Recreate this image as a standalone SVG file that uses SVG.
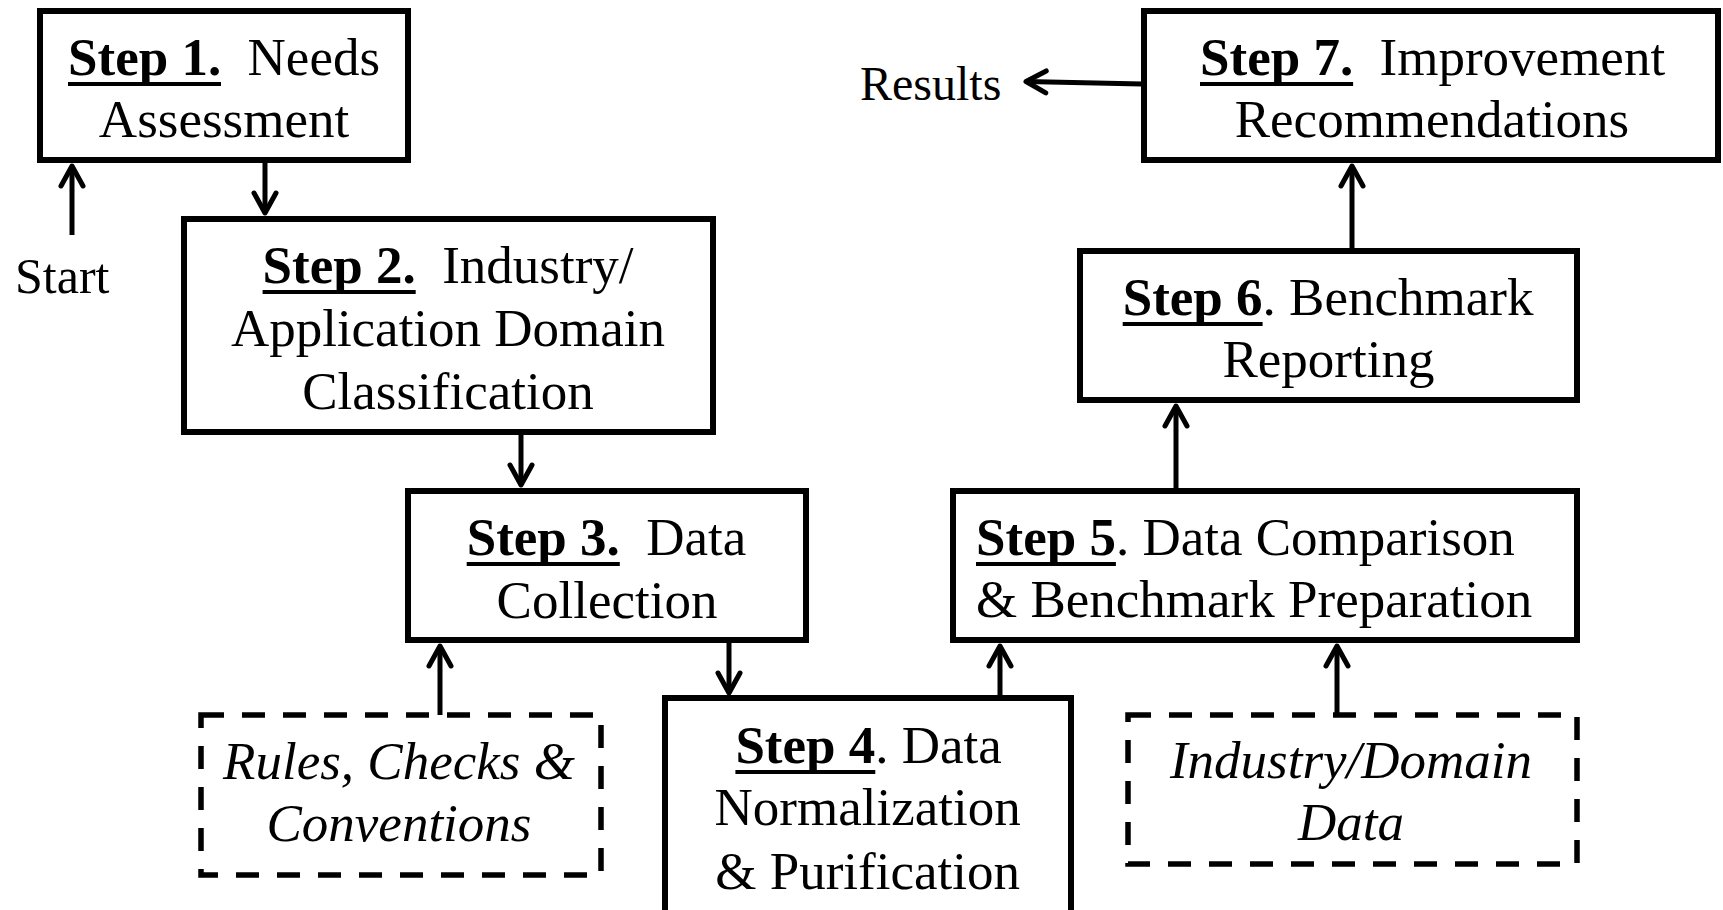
<svg xmlns="http://www.w3.org/2000/svg" width="1723" height="910" viewBox="0 0 1723 910">
<style>
text{font-family:"Liberation Serif","Times New Roman",serif;font-size:53px;fill:#000}
.b{font-weight:bold}
.i{font-style:italic}
.box{fill:#fff;stroke:#000;stroke-width:6}
.dash{fill:#fff;stroke:#000;stroke-width:5.5;stroke-dasharray:23 18}
.ul{stroke:#000;stroke-width:4}
.c{stroke:#000;stroke-width:5;fill:none}
</style>
<defs>
<marker id="ah" markerUnits="userSpaceOnUse" orient="auto" refX="0" refY="0" markerWidth="40" markerHeight="40" overflow="visible">
<path d="M-20,-11 L0,0 L-20,11" fill="none" stroke="#000" stroke-width="5" stroke-linecap="round" stroke-linejoin="round"/>
</marker>
</defs>
<rect width="1723" height="910" fill="#fff"/>
<g id="connectors">
<line class="c" x1="72" y1="235" x2="72" y2="166" marker-end="url(#ah)"/>
<line class="c" x1="265" y1="160" x2="265" y2="213" marker-end="url(#ah)"/>
<line class="c" x1="521" y1="432" x2="521" y2="485" marker-end="url(#ah)"/>
<line class="c" x1="440" y1="715" x2="440" y2="646" marker-end="url(#ah)"/>
<line class="c" x1="729" y1="640" x2="729" y2="693" marker-end="url(#ah)"/>
<line class="c" x1="1000" y1="698" x2="1000" y2="646" marker-end="url(#ah)"/>
<line class="c" x1="1337" y1="715" x2="1337" y2="646" marker-end="url(#ah)"/>
<line class="c" x1="1176" y1="491" x2="1176" y2="406" marker-end="url(#ah)"/>
<line class="c" x1="1352" y1="251" x2="1352" y2="166" marker-end="url(#ah)"/>
<line class="c" x1="1142" y1="84" x2="1026" y2="81.5" marker-end="url(#ah)"/>
</g>
<g id="start">
<text x="15" y="293" style="font-size:50px">Start</text>
</g>
<g id="results">
<text x="860" y="100" style="font-size:48px">Results</text>
</g>
<g id="step1">
<rect class="box" x="40" y="11" width="368" height="149"/>
<text y="75"><tspan class="b" x="68">Step 1.</tspan><tspan x="247.6">Needs</tspan></text>
<line class="ul" x1="68" y1="84" x2="221" y2="84"/>
<text x="224" y="136.5" text-anchor="middle">Assessment</text>
</g>
<g id="step2">
<rect class="box" x="184" y="219" width="529" height="213"/>
<text y="283"><tspan class="b" x="262.6">Step 2.</tspan><tspan x="442.2">Industry/</tspan></text>
<line class="ul" x1="262.6" y1="292" x2="415.7" y2="292"/>
<text x="448" y="346" text-anchor="middle">Application Domain</text>
<text x="448" y="409" text-anchor="middle">Classification</text>
</g>
<g id="step3">
<rect class="box" x="408" y="491" width="398" height="149"/>
<text y="555"><tspan class="b" x="466.7">Step 3.</tspan><tspan x="646.3">Data</tspan></text>
<line class="ul" x1="466.7" y1="564" x2="619.8" y2="564"/>
<text x="607" y="618" text-anchor="middle">Collection</text>
</g>
<g id="step4">
<rect class="box" x="665" y="698" width="406" height="230"/>
<text y="762.7"><tspan class="b" x="735.4">Step 4</tspan><tspan>. Data</tspan></text>
<line class="ul" x1="735.4" y1="772" x2="875.3" y2="772"/>
<text x="867.6" y="825" text-anchor="middle">Normalization</text>
<text x="867.6" y="889" text-anchor="middle">&amp; Purification</text>
</g>
<g id="step5">
<rect class="box" x="953" y="491" width="624" height="149"/>
<text y="555"><tspan class="b" x="976">Step 5</tspan><tspan>. Data Comparison</tspan></text>
<line class="ul" x1="976" y1="564" x2="1115.9" y2="564"/>
<text x="976" y="617">&amp; Benchmark Preparation</text>
</g>
<g id="step6">
<rect class="box" x="1080" y="251" width="497" height="149"/>
<text y="315"><tspan class="b" x="1122.7">Step 6</tspan><tspan>. Benchmark</tspan></text>
<line class="ul" x1="1122.7" y1="324" x2="1262.6" y2="324"/>
<text x="1328.5" y="377" text-anchor="middle">Reporting</text>
</g>
<g id="step7">
<rect class="box" x="1144" y="11" width="574" height="149"/>
<text y="75"><tspan class="b" x="1200">Step 7.</tspan><tspan x="1379.6">Improvement</tspan></text>
<line class="ul" x1="1200" y1="84" x2="1353.1" y2="84"/>
<text x="1432" y="136.5" text-anchor="middle">Recommendations</text>
</g>
<g id="rules">
<rect class="dash" x="201" y="715" width="400" height="160"/>
<text class="i" x="399" y="779" text-anchor="middle">Rules, Checks &amp;</text>
<text class="i" x="399" y="841" text-anchor="middle">Conventions</text>
</g>
<g id="domain-data">
<rect class="dash" x="1128" y="715" width="449" height="149"/>
<text class="i" x="1351" y="778" text-anchor="middle">Industry/Domain</text>
<text class="i" x="1351" y="840" text-anchor="middle">Data</text>
</g>
</svg>
